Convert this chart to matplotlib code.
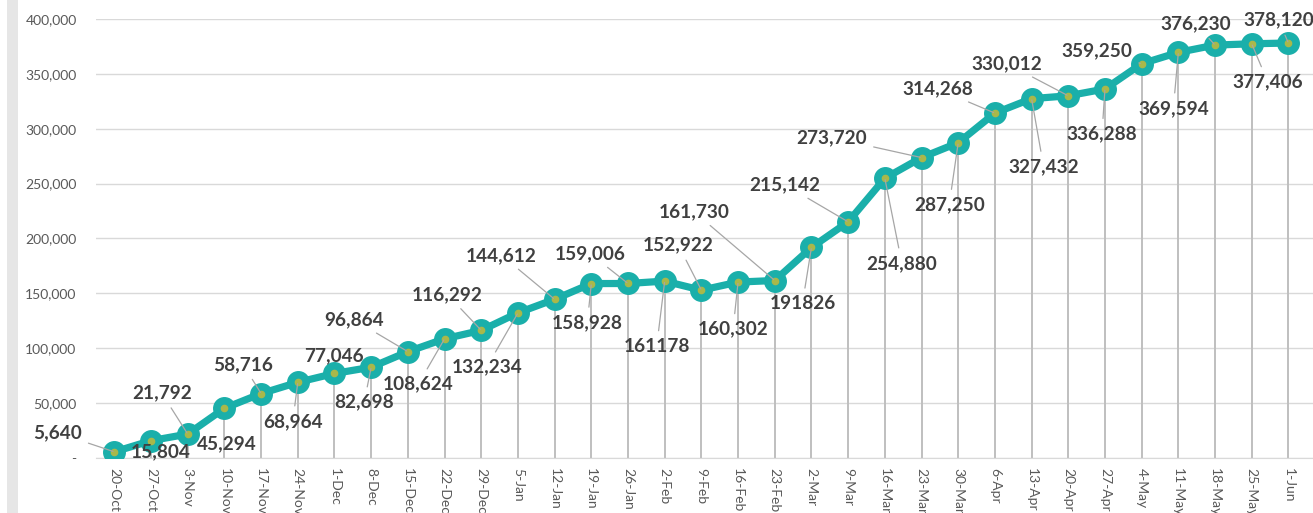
import matplotlib
matplotlib.use("Agg")
import matplotlib.pyplot as plt
from matplotlib.patches import Rectangle
from matplotlib.ticker import FuncFormatter

plt.rcParams['font.family'] = ['Lato', 'DejaVu Sans']

dates = ["20-Oct", "27-Oct", "3-Nov", "10-Nov", "17-Nov", "24-Nov", "1-Dec", "8-Dec",
         "15-Dec", "22-Dec", "29-Dec", "5-Jan", "12-Jan", "19-Jan", "26-Jan", "2-Feb",
         "9-Feb", "16-Feb", "23-Feb", "2-Mar", "9-Mar", "16-Mar", "23-Mar", "30-Mar",
         "6-Apr", "13-Apr", "20-Apr", "27-Apr", "4-May", "11-May", "18-May", "25-May", "1-Jun"]
values = [5640, 15804, 21792, 45294, 58716, 68964, 77046, 82698,
          96864, 108624, 116292, 132234, 144612, 158928, 159006, 161178,
          152922, 160302, 161730, 191826, 215142, 254880, 273720, 287250,
          314268, 327432, 330012, 336288, 359250, 369594, 376230, 377406, 378120]
label_texts = ["5,640", "15,804", "21,792", "45,294", "58,716", "68,964", "77,046", "82,698",
               "96,864", "108,624", "116,292", "132,234", "144,612", "158,928", "159,006", "161178",
               "152,922", "160,302", "161,730", "191826", "215,142", "254,880", "273,720", "287,250",
               "314,268", "327,432", "330,012", "336,288", "359,250", "369,594", "376,230", "377,406", "378,120"]
y_ticks = [0, 50000, 100000, 150000, 200000, 250000, 300000, 350000, 400000]

# label placement (pixel offsets from point, up = positive) and leader-line flags
offsets = [(-57, 19), (10, -11), (-26, 41), (2, -35), (-18, 29), (-5, -39), (-1, 18), (-7, -35),
           (-54, 32), (-26, -45), (-34, 36), (-31, -54), (-53, 44), (-4, -39), (-38, 30), (-8, -65),
           (-23, 45), (-5, -47), (-81, 69), (-9, -56), (-63, 37), (17, -85), (-90, 20), (-9, -62),
           (-57, 24), (12, -68), (-61, 32), (-3, -45), (-45, 13), (-5, -56), (-19, 21), (16, -38),
           (-10, 23)]
leaders = [True, False, True, False, True, True, False, True,
           True, True, True, True, True, True, True, True,
           True, True, True, True, True, True, True, True,
           True, True, True, True, True, True, True, True, True]

W, H = 1313, 513
fig = plt.figure(figsize=(W / 100, H / 100), dpi=100)
fig.patches.append(Rectangle((7 / W, 0), 11 / W, 1, transform=fig.transFigure,
                             facecolor='#E6E6E6', edgecolor='none', zorder=0))

ax = fig.add_axes([96 / W, (H - 458) / H, (W - 96) / W, (458 - 19) / H])
x = list(range(len(dates)))

ax.set_ylim(0, 400000)
ax.set_xlim(-0.5, 32.67)
ax.set_yticks(y_ticks)
ax.yaxis.set_major_formatter(FuncFormatter(lambda v, p: '-' if v == 0 else f"{int(v):,}"))
ax.grid(axis='y', color='#D9D9D9', lw=1)
ax.set_axisbelow(True)
for s in ['top', 'right', 'left']:
    ax.spines[s].set_visible(False)
ax.spines['bottom'].set_color('#D9D9D9')
ax.tick_params(axis='y', length=0, pad=14, labelsize=10, labelcolor='#595959')
ax.tick_params(axis='x', length=0, pad=7, labelsize=10, labelcolor='#595959')
ax.set_xticks(x)
ax.set_xticklabels(dates, rotation=270, va='top', ha='center')

ax.vlines(x, 0, values, color='#BFBFBF', lw=1.4, zorder=2)
ax.plot(x, values, color='#1AAFAA', lw=5.2, marker='o', markersize=15.5,
        markerfacecolor='#1AAFAA', markeredgecolor='#1AAFAA', zorder=3, solid_capstyle='round')
ax.plot(x, values, linestyle='none', marker='o', markersize=4.5,
        markerfacecolor='#A9B84A', markeredgecolor='#A9B84A', zorder=4)

for xi, v, t, (dx, dy), ld in zip(x, values, label_texts, offsets, leaders):
    ap = dict(arrowstyle='-', color='#A6A6A6', lw=0.9, shrinkA=3, shrinkB=1) if ld else None
    ax.annotate(t, xy=(xi, v), xytext=(dx, dy), textcoords='offset pixels',
                ha='center', va='center', fontsize=13.7, fontweight='bold', color='#404040',
                arrowprops=ap, zorder=5, annotation_clip=False)

fig.savefig('out.png', dpi=100)
